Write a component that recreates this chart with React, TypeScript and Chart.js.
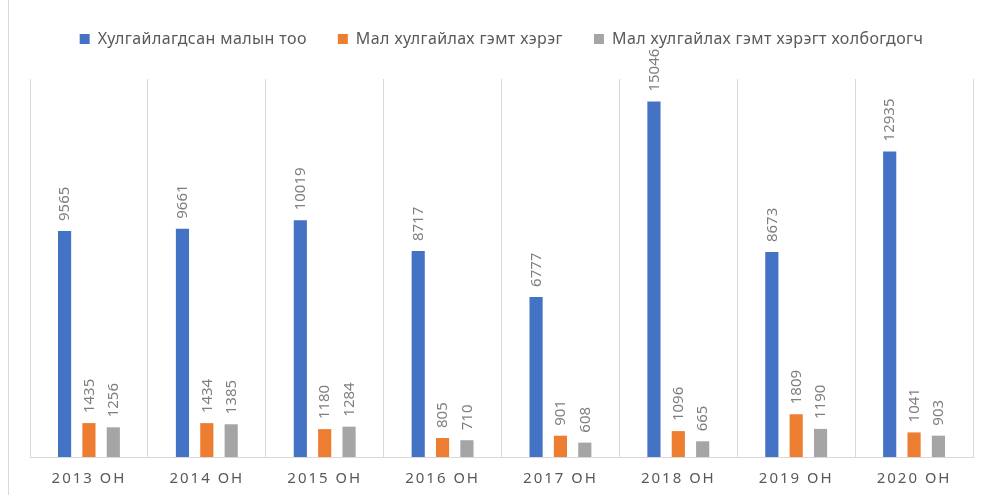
import React, { useEffect, useRef } from 'react';
import { Chart, registerables } from 'chart.js';

Chart.register(...registerables);

const categories = ['2013 ОН', '2014 ОН', '2015 ОН', '2016 ОН', '2017 ОН', '2018 ОН', '2019 ОН', '2020 ОН'];
const seriesNames = [
  'Хулгайлагдсан малын тоо',
  'Мал хулгайлах гэмт хэрэг',
  'Мал хулгайлах гэмт хэрэгт холбогдогч',
];
const stolenLivestock = [9565, 9661, 10019, 8717, 6777, 15046, 8673, 12935];
const theftCrimes = [1435, 1434, 1180, 805, 901, 1096, 1809, 1041];
const suspects = [1256, 1385, 1284, 710, 608, 665, 1190, 903];
const seriesColors = ['#4472C4', '#ED7D31', '#A5A5A5'];

const FONT = '"Noto Sans", sans-serif';

const valueLabels = {
  id: 'valueLabels',
  beforeLayout(chart: any) {
    chart.ctx.letterSpacing = '0.4px';
  },
  beforeDraw(chart: any) {
    chart.ctx.letterSpacing = '0.4px';
  },
  afterDatasetsDraw(chart: any) {
    const ctx = chart.ctx;
    ctx.save();
    ctx.letterSpacing = '0px';
    ctx.font = `15px ${FONT}`;
    ctx.fillStyle = '#7f7f7f';
    ctx.textAlign = 'left';
    ctx.textBaseline = 'middle';
    chart.data.datasets.forEach((ds: any, i: number) => {
      const meta = chart.getDatasetMeta(i);
      meta.data.forEach((el: any, j: number) => {
        ctx.save();
        ctx.translate(el.x + 0.5, el.y - 10);
        ctx.rotate(-Math.PI / 2);
        ctx.fillText(String(ds.data[j]), 0, 0);
        ctx.restore();
      });
    });
    ctx.restore();
    ctx.letterSpacing = '2px';
  },
  afterDraw(chart: any) {
    chart.ctx.letterSpacing = '0px';
  },
};

export default function App() {
  const ref = useRef<HTMLCanvasElement>(null);
  useEffect(() => {
    document.body.style.margin = '0';
    const chart = new Chart(ref.current!, {
      type: 'bar',
      data: {
        labels: categories,
        datasets: [stolenLivestock, theftCrimes, suspects].map((d, i) => ({
          label: seriesNames[i],
          data: d,
          backgroundColor: seriesColors[i],
          borderWidth: 0,
          categoryPercentage: 0.62,
          barPercentage: 0.54,
        })),
      },
      options: {
        responsive: false,
        animation: false,
        devicePixelRatio: 1,
        layout: { padding: { left: 30, right: 11, top: 0, bottom: -6 } },
        font: { family: FONT },
        plugins: {
          legend: {
            position: 'top',
            labels: {
              boxWidth: 10,
              boxHeight: 10,
              padding: 31,
              color: '#595959',
              font: { family: FONT, size: 16 },
            },
          },
          title: {
            display: true,
            text: '',
            weight: 500,
            padding: 0,
            font: { size: 22, lineHeight: 1 },
          },
          tooltip: { enabled: false },
        },
        scales: {
          x: {
            grid: { color: '#d9d9d9', drawTicks: false, offset: true },
            border: { color: '#d9d9d9' },
            ticks: {
              z: 1,
              padding: 13,
              color: '#595959',
              font: { family: FONT, size: 15 },
              maxRotation: 0,
              autoSkip: false,
            },
          },
          y: {
            display: false,
            min: 0,
            max: 16000,
          },
        },
      },
      plugins: [valueLabels],
    } as any);
    return () => chart.destroy();
  }, []);
  return (
    <div style={{ position: 'relative', width: 984, height: 495, background: '#fff', overflow: 'hidden' }}>
      <canvas ref={ref} width={984} height={495} style={{ display: 'block' }} />
      <div style={{ position: 'absolute', left: 8, top: 0, width: 1, height: 495, background: '#d9d9d9' }} />
    </div>
  );
}
